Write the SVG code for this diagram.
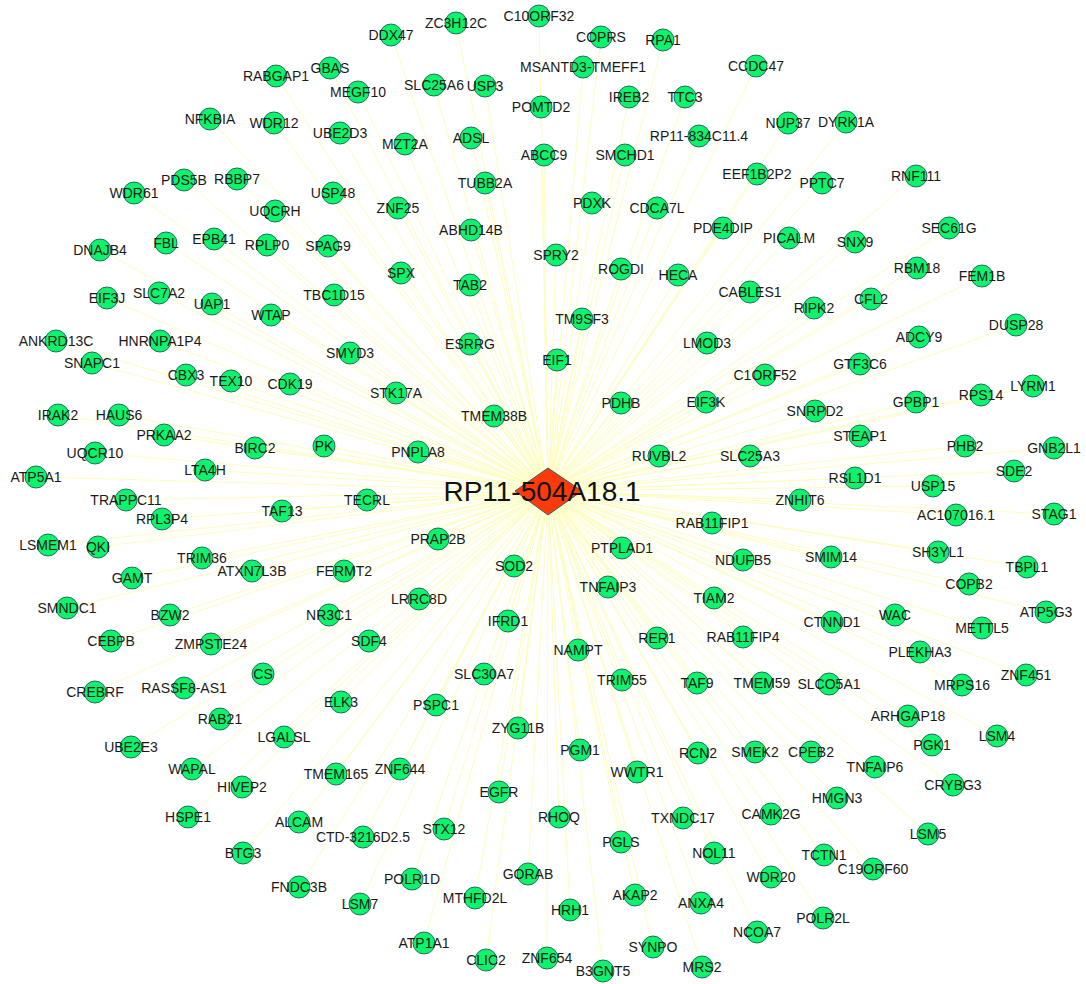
<svg xmlns="http://www.w3.org/2000/svg" width="1086" height="984" viewBox="0 0 1086 984">
<style>
.e line{stroke:#fdfdbe;stroke-width:1}
.n circle{fill:#0cf46c;stroke:#2a6868;stroke-width:1}
.n text{font-family:"Liberation Sans",Arial,sans-serif;font-size:14px;fill:#1a1a1a;text-anchor:middle}
</style>
<rect width="1086" height="984" fill="#ffffff"/>
<g id="edges" class="e">
<line x1="391" y1="35" x2="548" y2="491"/><line x1="456" y1="23" x2="548" y2="491"/><line x1="539" y1="16" x2="548" y2="491"/><line x1="601" y1="37" x2="548" y2="491"/><line x1="663" y1="40" x2="548" y2="491"/><line x1="756" y1="66" x2="548" y2="491"/><line x1="583" y1="67" x2="548" y2="491"/><line x1="276" y1="76" x2="548" y2="491"/><line x1="330" y1="68" x2="548" y2="491"/><line x1="434" y1="85" x2="548" y2="491"/><line x1="485" y1="86" x2="548" y2="491"/><line x1="358" y1="92" x2="548" y2="491"/><line x1="541" y1="107" x2="548" y2="491"/><line x1="629" y1="97" x2="548" y2="491"/><line x1="685" y1="97" x2="548" y2="491"/><line x1="788" y1="123" x2="548" y2="491"/><line x1="846" y1="122" x2="548" y2="491"/><line x1="210" y1="119" x2="548" y2="491"/><line x1="274" y1="123" x2="548" y2="491"/><line x1="340" y1="133" x2="548" y2="491"/><line x1="405" y1="144" x2="548" y2="491"/><line x1="471" y1="138" x2="548" y2="491"/><line x1="699" y1="136" x2="548" y2="491"/><line x1="544" y1="155" x2="548" y2="491"/><line x1="625" y1="155" x2="548" y2="491"/><line x1="757" y1="174" x2="548" y2="491"/><line x1="822" y1="183" x2="548" y2="491"/><line x1="916" y1="176" x2="548" y2="491"/><line x1="184" y1="180" x2="548" y2="491"/><line x1="237" y1="179" x2="548" y2="491"/><line x1="275" y1="211" x2="548" y2="491"/><line x1="333" y1="193" x2="548" y2="491"/><line x1="398" y1="208" x2="548" y2="491"/><line x1="485" y1="183" x2="548" y2="491"/><line x1="592" y1="203" x2="548" y2="491"/><line x1="657" y1="208" x2="548" y2="491"/><line x1="134" y1="193" x2="548" y2="491"/><line x1="471" y1="230" x2="548" y2="491"/><line x1="723" y1="228" x2="548" y2="491"/><line x1="789" y1="238" x2="548" y2="491"/><line x1="855" y1="242" x2="548" y2="491"/><line x1="949" y1="228" x2="548" y2="491"/><line x1="100" y1="250" x2="548" y2="491"/><line x1="166" y1="243" x2="548" y2="491"/><line x1="214" y1="239" x2="548" y2="491"/><line x1="267" y1="245" x2="548" y2="491"/><line x1="328" y1="246" x2="548" y2="491"/><line x1="401" y1="273" x2="548" y2="491"/><line x1="470" y1="285" x2="548" y2="491"/><line x1="556" y1="255" x2="548" y2="491"/><line x1="621" y1="269" x2="548" y2="491"/><line x1="678" y1="275" x2="548" y2="491"/><line x1="917" y1="268" x2="548" y2="491"/><line x1="982" y1="276" x2="548" y2="491"/><line x1="750" y1="292" x2="548" y2="491"/><line x1="814" y1="308" x2="548" y2="491"/><line x1="871" y1="299" x2="548" y2="491"/><line x1="107" y1="298" x2="548" y2="491"/><line x1="159" y1="293" x2="548" y2="491"/><line x1="212" y1="304" x2="548" y2="491"/><line x1="271" y1="315" x2="548" y2="491"/><line x1="334" y1="295" x2="548" y2="491"/><line x1="582" y1="319" x2="548" y2="491"/><line x1="1016" y1="325" x2="548" y2="491"/><line x1="919" y1="337" x2="548" y2="491"/><line x1="56" y1="341" x2="548" y2="491"/><line x1="160" y1="341" x2="548" y2="491"/><line x1="92" y1="363" x2="548" y2="491"/><line x1="186" y1="375" x2="548" y2="491"/><line x1="231" y1="381" x2="548" y2="491"/><line x1="350" y1="353" x2="548" y2="491"/><line x1="470" y1="344" x2="548" y2="491"/><line x1="557" y1="360" x2="548" y2="491"/><line x1="707" y1="343" x2="548" y2="491"/><line x1="860" y1="364" x2="548" y2="491"/><line x1="765" y1="375" x2="548" y2="491"/><line x1="290" y1="384" x2="548" y2="491"/><line x1="396" y1="393" x2="548" y2="491"/><line x1="1033" y1="386" x2="548" y2="491"/><line x1="981" y1="395" x2="548" y2="491"/><line x1="58" y1="415" x2="548" y2="491"/><line x1="119" y1="415" x2="548" y2="491"/><line x1="164" y1="435" x2="548" y2="491"/><line x1="255" y1="448" x2="548" y2="491"/><line x1="324" y1="446" x2="548" y2="491"/><line x1="418" y1="452" x2="548" y2="491"/><line x1="494" y1="416" x2="548" y2="491"/><line x1="621" y1="403" x2="548" y2="491"/><line x1="706" y1="402" x2="548" y2="491"/><line x1="815" y1="411" x2="548" y2="491"/><line x1="916" y1="402" x2="548" y2="491"/><line x1="95" y1="453" x2="548" y2="491"/><line x1="205" y1="470" x2="548" y2="491"/><line x1="860" y1="436" x2="548" y2="491"/><line x1="965" y1="446" x2="548" y2="491"/><line x1="1054" y1="448" x2="548" y2="491"/><line x1="659" y1="456" x2="548" y2="491"/><line x1="750" y1="456" x2="548" y2="491"/><line x1="36" y1="477" x2="548" y2="491"/><line x1="126" y1="500" x2="548" y2="491"/><line x1="162" y1="519" x2="548" y2="491"/><line x1="282" y1="511" x2="548" y2="491"/><line x1="367" y1="500" x2="548" y2="491"/><line x1="855" y1="478" x2="548" y2="491"/><line x1="933" y1="486" x2="548" y2="491"/><line x1="1014" y1="471" x2="548" y2="491"/><line x1="800" y1="500" x2="548" y2="491"/><line x1="712" y1="523" x2="548" y2="491"/><line x1="956" y1="515" x2="548" y2="491"/><line x1="1054" y1="514" x2="548" y2="491"/><line x1="48" y1="545" x2="548" y2="491"/><line x1="98" y1="547" x2="548" y2="491"/><line x1="202" y1="558" x2="548" y2="491"/><line x1="252" y1="571" x2="548" y2="491"/><line x1="344" y1="571" x2="548" y2="491"/><line x1="438" y1="539" x2="548" y2="491"/><line x1="622" y1="548" x2="548" y2="491"/><line x1="514" y1="566" x2="548" y2="491"/><line x1="743" y1="560" x2="548" y2="491"/><line x1="831" y1="557" x2="548" y2="491"/><line x1="938" y1="552" x2="548" y2="491"/><line x1="1027" y1="567" x2="548" y2="491"/><line x1="132" y1="578" x2="548" y2="491"/><line x1="67" y1="608" x2="548" y2="491"/><line x1="170" y1="615" x2="548" y2="491"/><line x1="111" y1="641" x2="548" y2="491"/><line x1="211" y1="644" x2="548" y2="491"/><line x1="419" y1="599" x2="548" y2="491"/><line x1="329" y1="615" x2="548" y2="491"/><line x1="369" y1="641" x2="548" y2="491"/><line x1="508" y1="621" x2="548" y2="491"/><line x1="608" y1="587" x2="548" y2="491"/><line x1="714" y1="598" x2="548" y2="491"/><line x1="832" y1="622" x2="548" y2="491"/><line x1="895" y1="615" x2="548" y2="491"/><line x1="969" y1="584" x2="548" y2="491"/><line x1="1046" y1="612" x2="548" y2="491"/><line x1="982" y1="628" x2="548" y2="491"/><line x1="95" y1="692" x2="548" y2="491"/><line x1="184" y1="688" x2="548" y2="491"/><line x1="263" y1="674" x2="548" y2="491"/><line x1="578" y1="650" x2="548" y2="491"/><line x1="657" y1="638" x2="548" y2="491"/><line x1="743" y1="637" x2="548" y2="491"/><line x1="920" y1="652" x2="548" y2="491"/><line x1="962" y1="685" x2="548" y2="491"/><line x1="1026" y1="675" x2="548" y2="491"/><line x1="484" y1="674" x2="548" y2="491"/><line x1="341" y1="702" x2="548" y2="491"/><line x1="436" y1="705" x2="548" y2="491"/><line x1="622" y1="680" x2="548" y2="491"/><line x1="697" y1="683" x2="548" y2="491"/><line x1="762" y1="683" x2="548" y2="491"/><line x1="829" y1="684" x2="548" y2="491"/><line x1="908" y1="716" x2="548" y2="491"/><line x1="997" y1="736" x2="548" y2="491"/><line x1="220" y1="719" x2="548" y2="491"/><line x1="284" y1="737" x2="548" y2="491"/><line x1="131" y1="747" x2="548" y2="491"/><line x1="192" y1="769" x2="548" y2="491"/><line x1="242" y1="787" x2="548" y2="491"/><line x1="518" y1="728" x2="548" y2="491"/><line x1="336" y1="774" x2="548" y2="491"/><line x1="400" y1="769" x2="548" y2="491"/><line x1="580" y1="750" x2="548" y2="491"/><line x1="698" y1="753" x2="548" y2="491"/><line x1="755" y1="752" x2="548" y2="491"/><line x1="811" y1="752" x2="548" y2="491"/><line x1="932" y1="745" x2="548" y2="491"/><line x1="875" y1="767" x2="548" y2="491"/><line x1="953" y1="785" x2="548" y2="491"/><line x1="637" y1="772" x2="548" y2="491"/><line x1="188" y1="817" x2="548" y2="491"/><line x1="499" y1="792" x2="548" y2="491"/><line x1="299" y1="822" x2="548" y2="491"/><line x1="363" y1="837" x2="548" y2="491"/><line x1="444" y1="829" x2="548" y2="491"/><line x1="559" y1="817" x2="548" y2="491"/><line x1="683" y1="818" x2="548" y2="491"/><line x1="771" y1="814" x2="548" y2="491"/><line x1="837" y1="798" x2="548" y2="491"/><line x1="928" y1="834" x2="548" y2="491"/><line x1="621" y1="842" x2="548" y2="491"/><line x1="714" y1="853" x2="548" y2="491"/><line x1="243" y1="853" x2="548" y2="491"/><line x1="528" y1="874" x2="548" y2="491"/><line x1="299" y1="887" x2="548" y2="491"/><line x1="412" y1="879" x2="548" y2="491"/><line x1="360" y1="904" x2="548" y2="491"/><line x1="475" y1="898" x2="548" y2="491"/><line x1="824" y1="855" x2="548" y2="491"/><line x1="873" y1="869" x2="548" y2="491"/><line x1="771" y1="877" x2="548" y2="491"/><line x1="635" y1="895" x2="548" y2="491"/><line x1="701" y1="903" x2="548" y2="491"/><line x1="570" y1="910" x2="548" y2="491"/><line x1="823" y1="918" x2="548" y2="491"/><line x1="757" y1="932" x2="548" y2="491"/><line x1="424" y1="943" x2="548" y2="491"/><line x1="486" y1="960" x2="548" y2="491"/><line x1="547" y1="958" x2="548" y2="491"/><line x1="653" y1="947" x2="548" y2="491"/><line x1="603" y1="971" x2="548" y2="491"/><line x1="702" y1="967" x2="548" y2="491"/>
</g>
<g id="nodes" class="n">
<g id="n-DDX47"><circle cx="391" cy="35" r="11"/><text x="391" y="40">DDX47</text></g>
<g id="n-ZC3H12C"><circle cx="456" cy="23" r="11"/><text x="456" y="28">ZC3H12C</text></g>
<g id="n-C10ORF32"><circle cx="539" cy="16" r="11"/><text x="539" y="21">C10ORF32</text></g>
<g id="n-COPRS"><circle cx="601" cy="37" r="11"/><text x="601" y="42">COPRS</text></g>
<g id="n-RPA1"><circle cx="663" cy="40" r="11"/><text x="663" y="45">RPA1</text></g>
<g id="n-CCDC47"><circle cx="756" cy="66" r="11"/><text x="756" y="71">CCDC47</text></g>
<g id="n-MSANTD3-TMEFF1"><circle cx="583" cy="67" r="11"/><text x="583" y="72">MSANTD3-TMEFF1</text></g>
<g id="n-RABGAP1"><circle cx="276" cy="76" r="11"/><text x="276" y="81">RABGAP1</text></g>
<g id="n-GBAS"><circle cx="330" cy="68" r="11"/><text x="330" y="73">GBAS</text></g>
<g id="n-SLC25A6"><circle cx="434" cy="85" r="11"/><text x="434" y="90">SLC25A6</text></g>
<g id="n-USP3"><circle cx="485" cy="86" r="11"/><text x="485" y="91">USP3</text></g>
<g id="n-MEGF10"><circle cx="358" cy="92" r="11"/><text x="358" y="97">MEGF10</text></g>
<g id="n-POMTD2"><circle cx="541" cy="107" r="11"/><text x="541" y="112">POMTD2</text></g>
<g id="n-IREB2"><circle cx="629" cy="97" r="11"/><text x="629" y="102">IREB2</text></g>
<g id="n-TTC3"><circle cx="685" cy="97" r="11"/><text x="685" y="102">TTC3</text></g>
<g id="n-NUP37"><circle cx="788" cy="123" r="11"/><text x="788" y="128">NUP37</text></g>
<g id="n-DYRK1A"><circle cx="846" cy="122" r="11"/><text x="846" y="127">DYRK1A</text></g>
<g id="n-NFKBIA"><circle cx="210" cy="119" r="11"/><text x="210" y="124">NFKBIA</text></g>
<g id="n-WDR12"><circle cx="274" cy="123" r="11"/><text x="274" y="128">WDR12</text></g>
<g id="n-UBE2D3"><circle cx="340" cy="133" r="11"/><text x="340" y="138">UBE2D3</text></g>
<g id="n-MZT2A"><circle cx="405" cy="144" r="11"/><text x="405" y="149">MZT2A</text></g>
<g id="n-ADSL"><circle cx="471" cy="138" r="11"/><text x="471" y="143">ADSL</text></g>
<g id="n-RP11-834C11.4"><circle cx="699" cy="136" r="11"/><text x="699" y="141">RP11-834C11.4</text></g>
<g id="n-ABCC9"><circle cx="544" cy="155" r="11"/><text x="544" y="160">ABCC9</text></g>
<g id="n-SMCHD1"><circle cx="625" cy="155" r="11"/><text x="625" y="160">SMCHD1</text></g>
<g id="n-EEF1B2P2"><circle cx="757" cy="174" r="11"/><text x="757" y="179">EEF1B2P2</text></g>
<g id="n-PPTC7"><circle cx="822" cy="183" r="11"/><text x="822" y="188">PPTC7</text></g>
<g id="n-RNF111"><circle cx="916" cy="176" r="11"/><text x="916" y="181">RNF111</text></g>
<g id="n-PDS5B"><circle cx="184" cy="180" r="11"/><text x="184" y="185">PDS5B</text></g>
<g id="n-RBBP7"><circle cx="237" cy="179" r="11"/><text x="237" y="184">RBBP7</text></g>
<g id="n-UQCRH"><circle cx="275" cy="211" r="11"/><text x="275" y="216">UQCRH</text></g>
<g id="n-USP48"><circle cx="333" cy="193" r="11"/><text x="333" y="198">USP48</text></g>
<g id="n-ZNF25"><circle cx="398" cy="208" r="11"/><text x="398" y="213">ZNF25</text></g>
<g id="n-TUBB2A"><circle cx="485" cy="183" r="11"/><text x="485" y="188">TUBB2A</text></g>
<g id="n-PDXK"><circle cx="592" cy="203" r="11"/><text x="592" y="208">PDXK</text></g>
<g id="n-CDCA7L"><circle cx="657" cy="208" r="11"/><text x="657" y="213">CDCA7L</text></g>
<g id="n-WDR61"><circle cx="134" cy="193" r="11"/><text x="134" y="198">WDR61</text></g>
<g id="n-ABHD14B"><circle cx="471" cy="230" r="11"/><text x="471" y="235">ABHD14B</text></g>
<g id="n-PDE4DIP"><circle cx="723" cy="228" r="11"/><text x="723" y="233">PDE4DIP</text></g>
<g id="n-PICALM"><circle cx="789" cy="238" r="11"/><text x="789" y="243">PICALM</text></g>
<g id="n-SNX9"><circle cx="855" cy="242" r="11"/><text x="855" y="247">SNX9</text></g>
<g id="n-SEC61G"><circle cx="949" cy="228" r="11"/><text x="949" y="233">SEC61G</text></g>
<g id="n-DNAJB4"><circle cx="100" cy="250" r="11"/><text x="100" y="255">DNAJB4</text></g>
<g id="n-FBL"><circle cx="166" cy="243" r="11"/><text x="166" y="248">FBL</text></g>
<g id="n-EPB41"><circle cx="214" cy="239" r="11"/><text x="214" y="244">EPB41</text></g>
<g id="n-RPLP0"><circle cx="267" cy="245" r="11"/><text x="267" y="250">RPLP0</text></g>
<g id="n-SPAG9"><circle cx="328" cy="246" r="11"/><text x="328" y="251">SPAG9</text></g>
<g id="n-SPX"><circle cx="401" cy="273" r="11"/><text x="401" y="278">SPX</text></g>
<g id="n-TAB2"><circle cx="470" cy="285" r="11"/><text x="470" y="290">TAB2</text></g>
<g id="n-SPRY2"><circle cx="556" cy="255" r="11"/><text x="556" y="260">SPRY2</text></g>
<g id="n-ROGDI"><circle cx="621" cy="269" r="11"/><text x="621" y="274">ROGDI</text></g>
<g id="n-HECA"><circle cx="678" cy="275" r="11"/><text x="678" y="280">HECA</text></g>
<g id="n-RBM18"><circle cx="917" cy="268" r="11"/><text x="917" y="273">RBM18</text></g>
<g id="n-FEM1B"><circle cx="982" cy="276" r="11"/><text x="982" y="281">FEM1B</text></g>
<g id="n-CABLES1"><circle cx="750" cy="292" r="11"/><text x="750" y="297">CABLES1</text></g>
<g id="n-RIPK2"><circle cx="814" cy="308" r="11"/><text x="814" y="313">RIPK2</text></g>
<g id="n-CFL2"><circle cx="871" cy="299" r="11"/><text x="871" y="304">CFL2</text></g>
<g id="n-EIF3J"><circle cx="107" cy="298" r="11"/><text x="107" y="303">EIF3J</text></g>
<g id="n-SLC7A2"><circle cx="159" cy="293" r="11"/><text x="159" y="298">SLC7A2</text></g>
<g id="n-UAP1"><circle cx="212" cy="304" r="11"/><text x="212" y="309">UAP1</text></g>
<g id="n-WTAP"><circle cx="271" cy="315" r="11"/><text x="271" y="320">WTAP</text></g>
<g id="n-TBC1D15"><circle cx="334" cy="295" r="11"/><text x="334" y="300">TBC1D15</text></g>
<g id="n-TM9SF3"><circle cx="582" cy="319" r="11"/><text x="582" y="324">TM9SF3</text></g>
<g id="n-DUSP28"><circle cx="1016" cy="325" r="11"/><text x="1016" y="330">DUSP28</text></g>
<g id="n-ADCY9"><circle cx="919" cy="337" r="11"/><text x="919" y="342">ADCY9</text></g>
<g id="n-ANKRD13C"><circle cx="56" cy="341" r="11"/><text x="56" y="346">ANKRD13C</text></g>
<g id="n-HNRNPA1P4"><circle cx="160" cy="341" r="11"/><text x="160" y="346">HNRNPA1P4</text></g>
<g id="n-SNAPC1"><circle cx="92" cy="363" r="11"/><text x="92" y="368">SNAPC1</text></g>
<g id="n-CBX3"><circle cx="186" cy="375" r="11"/><text x="186" y="380">CBX3</text></g>
<g id="n-TEX10"><circle cx="231" cy="381" r="11"/><text x="231" y="386">TEX10</text></g>
<g id="n-SMYD3"><circle cx="350" cy="353" r="11"/><text x="350" y="358">SMYD3</text></g>
<g id="n-ESRRG"><circle cx="470" cy="344" r="11"/><text x="470" y="349">ESRRG</text></g>
<g id="n-EIF1"><circle cx="557" cy="360" r="11"/><text x="557" y="365">EIF1</text></g>
<g id="n-LMOD3"><circle cx="707" cy="343" r="11"/><text x="707" y="348">LMOD3</text></g>
<g id="n-GTF3C6"><circle cx="860" cy="364" r="11"/><text x="860" y="369">GTF3C6</text></g>
<g id="n-C1ORF52"><circle cx="765" cy="375" r="11"/><text x="765" y="380">C1ORF52</text></g>
<g id="n-CDK19"><circle cx="290" cy="384" r="11"/><text x="290" y="389">CDK19</text></g>
<g id="n-STK17A"><circle cx="396" cy="393" r="11"/><text x="396" y="398">STK17A</text></g>
<g id="n-LYRM1"><circle cx="1033" cy="386" r="11"/><text x="1033" y="391">LYRM1</text></g>
<g id="n-RPS14"><circle cx="981" cy="395" r="11"/><text x="981" y="400">RPS14</text></g>
<g id="n-IRAK2"><circle cx="58" cy="415" r="11"/><text x="58" y="420">IRAK2</text></g>
<g id="n-HAUS6"><circle cx="119" cy="415" r="11"/><text x="119" y="420">HAUS6</text></g>
<g id="n-PRKAA2"><circle cx="164" cy="435" r="11"/><text x="164" y="440">PRKAA2</text></g>
<g id="n-BIRC2"><circle cx="255" cy="448" r="11"/><text x="255" y="453">BIRC2</text></g>
<g id="n-PK"><circle cx="324" cy="446" r="11"/><text x="324" y="451">PK</text></g>
<g id="n-PNPLA8"><circle cx="418" cy="452" r="11"/><text x="418" y="457">PNPLA8</text></g>
<g id="n-TMEM38B"><circle cx="494" cy="416" r="11"/><text x="494" y="421">TMEM38B</text></g>
<g id="n-PDHB"><circle cx="621" cy="403" r="11"/><text x="621" y="408">PDHB</text></g>
<g id="n-EIF3K"><circle cx="706" cy="402" r="11"/><text x="706" y="407">EIF3K</text></g>
<g id="n-SNRPD2"><circle cx="815" cy="411" r="11"/><text x="815" y="416">SNRPD2</text></g>
<g id="n-GPBP1"><circle cx="916" cy="402" r="11"/><text x="916" y="407">GPBP1</text></g>
<g id="n-UQCR10"><circle cx="95" cy="453" r="11"/><text x="95" y="458">UQCR10</text></g>
<g id="n-LTA4H"><circle cx="205" cy="470" r="11"/><text x="205" y="475">LTA4H</text></g>
<g id="n-STEAP1"><circle cx="860" cy="436" r="11"/><text x="860" y="441">STEAP1</text></g>
<g id="n-PHB2"><circle cx="965" cy="446" r="11"/><text x="965" y="451">PHB2</text></g>
<g id="n-GNB2L1"><circle cx="1054" cy="448" r="11"/><text x="1054" y="453">GNB2L1</text></g>
<g id="n-RUVBL2"><circle cx="659" cy="456" r="11"/><text x="659" y="461">RUVBL2</text></g>
<g id="n-SLC25A3"><circle cx="750" cy="456" r="11"/><text x="750" y="461">SLC25A3</text></g>
<g id="n-ATP5A1"><circle cx="36" cy="477" r="11"/><text x="36" y="482">ATP5A1</text></g>
<g id="n-TRAPPC11"><circle cx="126" cy="500" r="11"/><text x="126" y="505">TRAPPC11</text></g>
<g id="n-RPL3P4"><circle cx="162" cy="519" r="11"/><text x="162" y="524">RPL3P4</text></g>
<g id="n-TAF13"><circle cx="282" cy="511" r="11"/><text x="282" y="516">TAF13</text></g>
<g id="n-TECRL"><circle cx="367" cy="500" r="11"/><text x="367" y="505">TECRL</text></g>
<g id="n-RSL1D1"><circle cx="855" cy="478" r="11"/><text x="855" y="483">RSL1D1</text></g>
<g id="n-USP15"><circle cx="933" cy="486" r="11"/><text x="933" y="491">USP15</text></g>
<g id="n-SDE2"><circle cx="1014" cy="471" r="11"/><text x="1014" y="476">SDE2</text></g>
<g id="n-ZNHIT6"><circle cx="800" cy="500" r="11"/><text x="800" y="505">ZNHIT6</text></g>
<g id="n-RAB11FIP1"><circle cx="712" cy="523" r="11"/><text x="712" y="528">RAB11FIP1</text></g>
<g id="n-AC107016.1"><circle cx="956" cy="515" r="11"/><text x="956" y="520">AC107016.1</text></g>
<g id="n-STAG1"><circle cx="1054" cy="514" r="11"/><text x="1054" y="519">STAG1</text></g>
<g id="n-LSMEM1"><circle cx="48" cy="545" r="11"/><text x="48" y="550">LSMEM1</text></g>
<g id="n-QKI"><circle cx="98" cy="547" r="11"/><text x="98" y="552">QKI</text></g>
<g id="n-TRIM36"><circle cx="202" cy="558" r="11"/><text x="202" y="563">TRIM36</text></g>
<g id="n-ATXN7L3B"><circle cx="252" cy="571" r="11"/><text x="252" y="576">ATXN7L3B</text></g>
<g id="n-FERMT2"><circle cx="344" cy="571" r="11"/><text x="344" y="576">FERMT2</text></g>
<g id="n-PRAP2B"><circle cx="438" cy="539" r="11"/><text x="438" y="544">PRAP2B</text></g>
<g id="n-PTPLAD1"><circle cx="622" cy="548" r="11"/><text x="622" y="553">PTPLAD1</text></g>
<g id="n-SOD2"><circle cx="514" cy="566" r="11"/><text x="514" y="571">SOD2</text></g>
<g id="n-NDUFB5"><circle cx="743" cy="560" r="11"/><text x="743" y="565">NDUFB5</text></g>
<g id="n-SMIM14"><circle cx="831" cy="557" r="11"/><text x="831" y="562">SMIM14</text></g>
<g id="n-SH3YL1"><circle cx="938" cy="552" r="11"/><text x="938" y="557">SH3YL1</text></g>
<g id="n-TBPL1"><circle cx="1027" cy="567" r="11"/><text x="1027" y="572">TBPL1</text></g>
<g id="n-GAMT"><circle cx="132" cy="578" r="11"/><text x="132" y="583">GAMT</text></g>
<g id="n-SMNDC1"><circle cx="67" cy="608" r="11"/><text x="67" y="613">SMNDC1</text></g>
<g id="n-BZW2"><circle cx="170" cy="615" r="11"/><text x="170" y="620">BZW2</text></g>
<g id="n-CEBPB"><circle cx="111" cy="641" r="11"/><text x="111" y="646">CEBPB</text></g>
<g id="n-ZMPSTE24"><circle cx="211" cy="644" r="11"/><text x="211" y="649">ZMPSTE24</text></g>
<g id="n-LRRC8D"><circle cx="419" cy="599" r="11"/><text x="419" y="604">LRRC8D</text></g>
<g id="n-NR3C1"><circle cx="329" cy="615" r="11"/><text x="329" y="620">NR3C1</text></g>
<g id="n-SDF4"><circle cx="369" cy="641" r="11"/><text x="369" y="646">SDF4</text></g>
<g id="n-IFRD1"><circle cx="508" cy="621" r="11"/><text x="508" y="626">IFRD1</text></g>
<g id="n-TNFAIP3"><circle cx="608" cy="587" r="11"/><text x="608" y="592">TNFAIP3</text></g>
<g id="n-TIAM2"><circle cx="714" cy="598" r="11"/><text x="714" y="603">TIAM2</text></g>
<g id="n-CTNND1"><circle cx="832" cy="622" r="11"/><text x="832" y="627">CTNND1</text></g>
<g id="n-WAC"><circle cx="895" cy="615" r="11"/><text x="895" y="620">WAC</text></g>
<g id="n-COPB2"><circle cx="969" cy="584" r="11"/><text x="969" y="589">COPB2</text></g>
<g id="n-ATP5G3"><circle cx="1046" cy="612" r="11"/><text x="1046" y="617">ATP5G3</text></g>
<g id="n-METTL5"><circle cx="982" cy="628" r="11"/><text x="982" y="633">METTL5</text></g>
<g id="n-CREBRF"><circle cx="95" cy="692" r="11"/><text x="95" y="697">CREBRF</text></g>
<g id="n-RASSF8-AS1"><circle cx="184" cy="688" r="11"/><text x="184" y="693">RASSF8-AS1</text></g>
<g id="n-CS"><circle cx="263" cy="674" r="11"/><text x="263" y="679">CS</text></g>
<g id="n-NAMPT"><circle cx="578" cy="650" r="11"/><text x="578" y="655">NAMPT</text></g>
<g id="n-RER1"><circle cx="657" cy="638" r="11"/><text x="657" y="643">RER1</text></g>
<g id="n-RAB11FIP4"><circle cx="743" cy="637" r="11"/><text x="743" y="642">RAB11FIP4</text></g>
<g id="n-PLEKHA3"><circle cx="920" cy="652" r="11"/><text x="920" y="657">PLEKHA3</text></g>
<g id="n-MRPS16"><circle cx="962" cy="685" r="11"/><text x="962" y="690">MRPS16</text></g>
<g id="n-ZNF451"><circle cx="1026" cy="675" r="11"/><text x="1026" y="680">ZNF451</text></g>
<g id="n-SLC30A7"><circle cx="484" cy="674" r="11"/><text x="484" y="679">SLC30A7</text></g>
<g id="n-ELK3"><circle cx="341" cy="702" r="11"/><text x="341" y="707">ELK3</text></g>
<g id="n-PSPC1"><circle cx="436" cy="705" r="11"/><text x="436" y="710">PSPC1</text></g>
<g id="n-TRIM55"><circle cx="622" cy="680" r="11"/><text x="622" y="685">TRIM55</text></g>
<g id="n-TAF9"><circle cx="697" cy="683" r="11"/><text x="697" y="688">TAF9</text></g>
<g id="n-TMEM59"><circle cx="762" cy="683" r="11"/><text x="762" y="688">TMEM59</text></g>
<g id="n-SLCO5A1"><circle cx="829" cy="684" r="11"/><text x="829" y="689">SLCO5A1</text></g>
<g id="n-ARHGAP18"><circle cx="908" cy="716" r="11"/><text x="908" y="721">ARHGAP18</text></g>
<g id="n-LSM4"><circle cx="997" cy="736" r="11"/><text x="997" y="741">LSM4</text></g>
<g id="n-RAB21"><circle cx="220" cy="719" r="11"/><text x="220" y="724">RAB21</text></g>
<g id="n-LGALSL"><circle cx="284" cy="737" r="11"/><text x="284" y="742">LGALSL</text></g>
<g id="n-UBE2E3"><circle cx="131" cy="747" r="11"/><text x="131" y="752">UBE2E3</text></g>
<g id="n-WAPAL"><circle cx="192" cy="769" r="11"/><text x="192" y="774">WAPAL</text></g>
<g id="n-HIVEP2"><circle cx="242" cy="787" r="11"/><text x="242" y="792">HIVEP2</text></g>
<g id="n-ZYG11B"><circle cx="518" cy="728" r="11"/><text x="518" y="733">ZYG11B</text></g>
<g id="n-TMEM165"><circle cx="336" cy="774" r="11"/><text x="336" y="779">TMEM165</text></g>
<g id="n-ZNF644"><circle cx="400" cy="769" r="11"/><text x="400" y="774">ZNF644</text></g>
<g id="n-PGM1"><circle cx="580" cy="750" r="11"/><text x="580" y="755">PGM1</text></g>
<g id="n-RCN2"><circle cx="698" cy="753" r="11"/><text x="698" y="758">RCN2</text></g>
<g id="n-SMEK2"><circle cx="755" cy="752" r="11"/><text x="755" y="757">SMEK2</text></g>
<g id="n-CPEB2"><circle cx="811" cy="752" r="11"/><text x="811" y="757">CPEB2</text></g>
<g id="n-PGK1"><circle cx="932" cy="745" r="11"/><text x="932" y="750">PGK1</text></g>
<g id="n-TNFAIP6"><circle cx="875" cy="767" r="11"/><text x="875" y="772">TNFAIP6</text></g>
<g id="n-CRYBG3"><circle cx="953" cy="785" r="11"/><text x="953" y="790">CRYBG3</text></g>
<g id="n-WWTR1"><circle cx="637" cy="772" r="11"/><text x="637" y="777">WWTR1</text></g>
<g id="n-HSPE1"><circle cx="188" cy="817" r="11"/><text x="188" y="822">HSPE1</text></g>
<g id="n-EGFR"><circle cx="499" cy="792" r="11"/><text x="499" y="797">EGFR</text></g>
<g id="n-ALCAM"><circle cx="299" cy="822" r="11"/><text x="299" y="827">ALCAM</text></g>
<g id="n-CTD-3216D2.5"><circle cx="363" cy="837" r="11"/><text x="363" y="842">CTD-3216D2.5</text></g>
<g id="n-STX12"><circle cx="444" cy="829" r="11"/><text x="444" y="834">STX12</text></g>
<g id="n-RHOQ"><circle cx="559" cy="817" r="11"/><text x="559" y="822">RHOQ</text></g>
<g id="n-TXNDC17"><circle cx="683" cy="818" r="11"/><text x="683" y="823">TXNDC17</text></g>
<g id="n-CAMK2G"><circle cx="771" cy="814" r="11"/><text x="771" y="819">CAMK2G</text></g>
<g id="n-HMGN3"><circle cx="837" cy="798" r="11"/><text x="837" y="803">HMGN3</text></g>
<g id="n-LSM5"><circle cx="928" cy="834" r="11"/><text x="928" y="839">LSM5</text></g>
<g id="n-PGLS"><circle cx="621" cy="842" r="11"/><text x="621" y="847">PGLS</text></g>
<g id="n-NOL11"><circle cx="714" cy="853" r="11"/><text x="714" y="858">NOL11</text></g>
<g id="n-BTG3"><circle cx="243" cy="853" r="11"/><text x="243" y="858">BTG3</text></g>
<g id="n-GORAB"><circle cx="528" cy="874" r="11"/><text x="528" y="879">GORAB</text></g>
<g id="n-FNDC3B"><circle cx="299" cy="887" r="11"/><text x="299" y="892">FNDC3B</text></g>
<g id="n-POLR1D"><circle cx="412" cy="879" r="11"/><text x="412" y="884">POLR1D</text></g>
<g id="n-LSM7"><circle cx="360" cy="904" r="11"/><text x="360" y="909">LSM7</text></g>
<g id="n-MTHFD2L"><circle cx="475" cy="898" r="11"/><text x="475" y="903">MTHFD2L</text></g>
<g id="n-TCTN1"><circle cx="824" cy="855" r="11"/><text x="824" y="860">TCTN1</text></g>
<g id="n-C19ORF60"><circle cx="873" cy="869" r="11"/><text x="873" y="874">C19ORF60</text></g>
<g id="n-WDR20"><circle cx="771" cy="877" r="11"/><text x="771" y="882">WDR20</text></g>
<g id="n-AKAP2"><circle cx="635" cy="895" r="11"/><text x="635" y="900">AKAP2</text></g>
<g id="n-ANXA4"><circle cx="701" cy="903" r="11"/><text x="701" y="908">ANXA4</text></g>
<g id="n-HRH1"><circle cx="570" cy="910" r="11"/><text x="570" y="915">HRH1</text></g>
<g id="n-POLR2L"><circle cx="823" cy="918" r="11"/><text x="823" y="923">POLR2L</text></g>
<g id="n-NCOA7"><circle cx="757" cy="932" r="11"/><text x="757" y="937">NCOA7</text></g>
<g id="n-ATP1A1"><circle cx="424" cy="943" r="11"/><text x="424" y="948">ATP1A1</text></g>
<g id="n-CLIC2"><circle cx="486" cy="960" r="11"/><text x="486" y="965">CLIC2</text></g>
<g id="n-ZNF654"><circle cx="547" cy="958" r="11"/><text x="547" y="963">ZNF654</text></g>
<g id="n-SYNPO"><circle cx="653" cy="947" r="11"/><text x="653" y="952">SYNPO</text></g>
<g id="n-B3GNT5"><circle cx="603" cy="971" r="11"/><text x="603" y="976">B3GNT5</text></g>
<g id="n-MRS2"><circle cx="702" cy="967" r="11"/><text x="702" y="972">MRS2</text></g>
</g>
<g id="n-RP11-504A18.1">
<polygon points="515,491 548,468 582,491 548,515" fill="#ff3a0a" stroke="#2d6870" stroke-width="1"/>
<text x="542" y="501" font-family="Liberation Sans, Arial, sans-serif" font-size="28" fill="#111" text-anchor="middle">RP11-504A18.1</text>
</g>
</svg>
